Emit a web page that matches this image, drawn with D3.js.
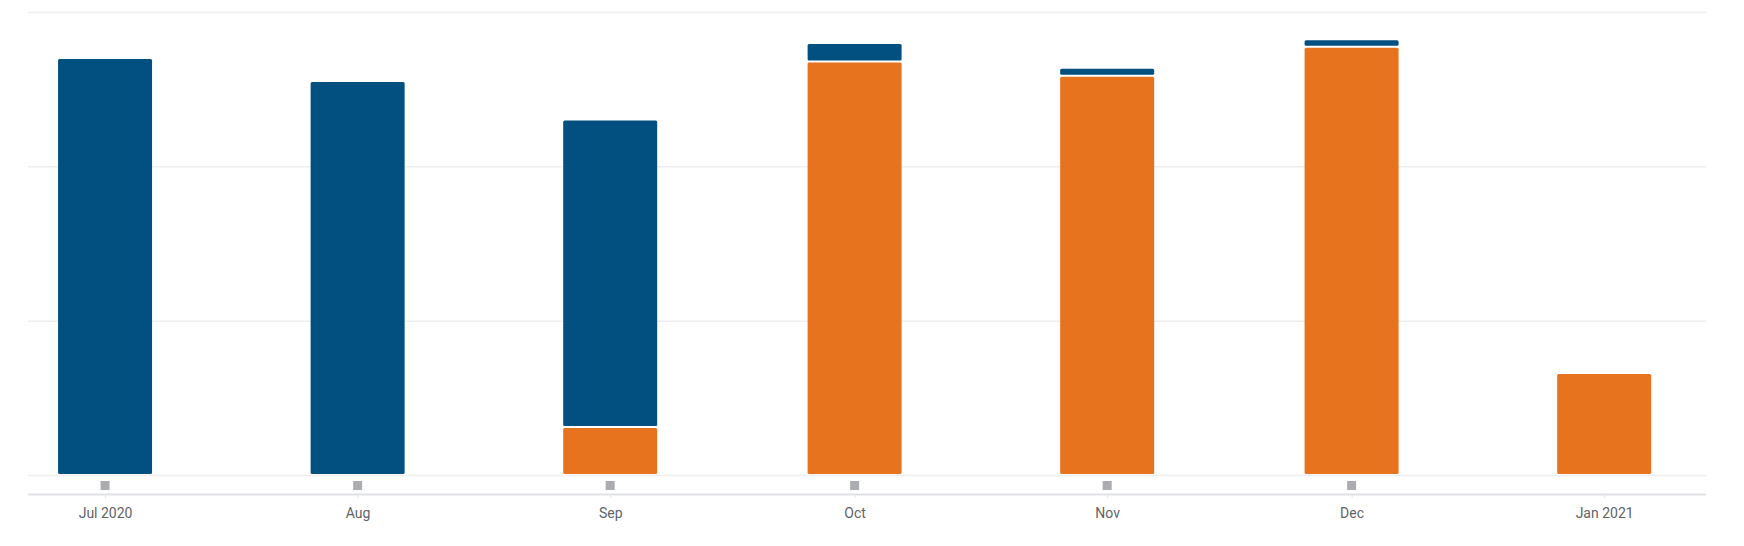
<!DOCTYPE html>
<html>
<head>
<meta charset="utf-8">
<script src="https://cdn.jsdelivr.net/npm/d3@7"></script>
<style>
  body { margin: 0; background: #fff; }
  svg { display: block; font-family: Roboto, "Noto Sans", sans-serif; }
</style>
</head>
<body>
<svg id="chart" width="1744" height="546"></svg>
<script>
// months shown on the axis (first day of each month)
const months = ['2020-07-01', '2020-08-01', '2020-09-01', '2020-10-01', '2020-11-01', '2020-12-01', '2021-01-01'];
const monthLabels = ['Jul 2020', 'Aug', 'Sep', 'Oct', 'Nov', 'Dec', 'Jan 2021'];
// stacked series, bottom (orange) then top (blue)
const orangeValues = [0, 0, 305, 2672, 2581, 2769, 654];
const blueValues = [2695, 2546, 1992, 121, 52, 48, 0];
// small grey markers under these months
const markerMonths = ['2020-07-01', '2020-08-01', '2020-09-01', '2020-10-01', '2020-11-01', '2020-12-01'];
const yTicks = [0, 1000, 2000, 3000];

const svg = d3.select('#chart');
const width = 1744;
const margin = { top: 12, right: 38, left: 28 };
const baseY = 475;
const axisY = 494;
const barWidth = 94;
const blue = '#01507f';
const orange = '#e8731f';

const parse = d3.utcParse('%Y-%m-%d');
const data = months.map((m, i) => ({
    date: parse(m),
    label: monthLabels[i],
    orange: orangeValues[i],
    blue: blueValues[i]
}));

const x = d3.scaleUtc()
    .domain([Date.UTC(2020, 5, 21, 13), Date.UTC(2021, 0, 13, 12)])
    .range([margin.left, width - margin.right]);

const y = d3.scaleLinear()
    .domain([0, 3000])
    .range([baseY, margin.top]);

// gridlines
svg.append('g')
    .selectAll('line')
    .data(yTicks)
    .join('line')
    .attr('x1', margin.left)
    .attr('x2', width - margin.right)
    .attr('y1', (d) => y(d) + 0.5)
    .attr('y2', (d) => y(d) + 0.5)
    .attr('stroke', '#eeeeee')
    .attr('stroke-width', 1.5);

// bottom axis
const xAxis = d3.axisBottom(x)
    .tickValues(data.map((d) => d.date))
    .tickFormat((d, i) => monthLabels[i])
    .tickSize(4)
    .tickPadding(10);

svg.append('g')
    .attr('transform', `translate(0,${axisY})`)
    .call(xAxis)
    .call((g) => g.select('.domain')
        .attr('d', `M${margin.left},0.5H${width - margin.right}`)
        .attr('stroke', '#dfe1e5')
        .attr('stroke-width', 2))
    .call((g) => g.selectAll('.tick line').attr('stroke', '#e3e4e8'))
    .call((g) => g.selectAll('.tick text')
        .attr('fill', '#5f6368')
        .attr('font-size', 14)
        .attr('font-family', 'Roboto, sans-serif'));

// bars
const plot = svg.append('g');

plot.selectAll('.bar-orange')
    .data(data.filter((d) => d.orange > 0))
    .join('rect')
    .attr('class', 'bar-orange')
    .attr('x', (d) => x(d.date) - barWidth / 2)
    .attr('width', barWidth)
    .attr('y', (d) => y(d.orange))
    .attr('height', (d) => y(0) - 1 - y(d.orange))
    .attr('rx', 1.5)
    .attr('fill', orange);

plot.selectAll('.bar-blue')
    .data(data.filter((d) => d.blue > 0))
    .join('rect')
    .attr('class', 'bar-blue')
    .attr('x', (d) => x(d.date) - barWidth / 2)
    .attr('width', barWidth)
    .attr('y', (d) => y(d.orange + d.blue))
    .attr('height', (d) => y(d.orange) - y(d.orange + d.blue) - (d.orange > 0 ? 2 : 1))
    .attr('rx', 1.5)
    .attr('fill', blue);

// grey markers
svg.append('g')
    .selectAll('rect')
    .data(markerMonths.map(parse))
    .join('rect')
    .attr('x', (d) => x(d) - 4.5)
    .attr('y', 481)
    .attr('width', 9)
    .attr('height', 9)
    .attr('fill', '#abacaf');
</script>
</body>
</html>
